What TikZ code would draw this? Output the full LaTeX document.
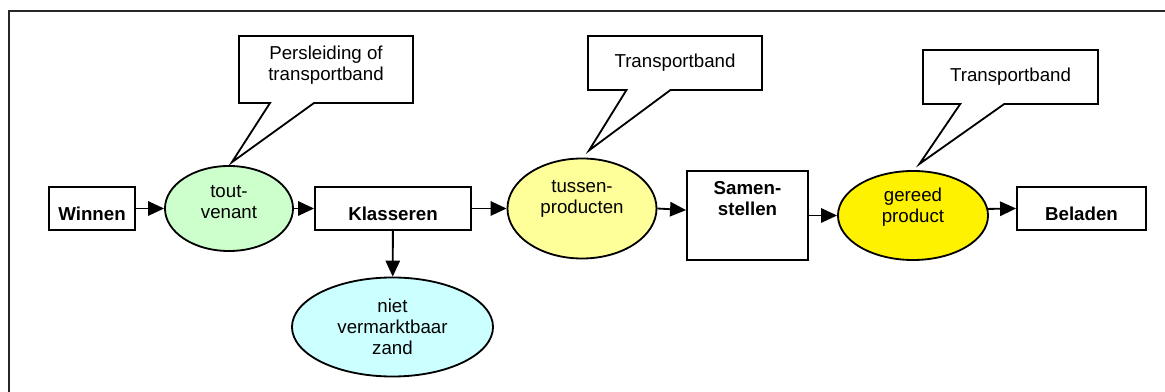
\documentclass[tikz,border=0pt]{standalone}
\usepackage{fontspec}
\setmainfont{Liberation Sans}
\usetikzlibrary{arrows.meta,shapes.geometric,shapes.callouts}

\tikzset{
  every node/.style={font=\fontsize{13.3}{15}\selectfont,align=center},
  stap/.style={draw,line width=1.3pt,rectangle,font=\fontsize{13.3}{15}\selectfont\bfseries,
    minimum height=1.075cm,text height=18pt,text depth=1.4pt},
  prod/.style={draw,line width=1.3pt,ellipse,inner sep=0pt},
  ballon/.style={draw,line width=1.3pt,rectangle callout,callout pointer width=1.1cm},
  pijl/.style={line width=1.3pt,-{Triangle[length=0.4cm,width=0.36cm]}}
}

\begin{document}
\begin{tikzpicture}[x=0.025cm,y=-0.025cm]
  \useasboundingbox (0,0) rectangle (1165,392);
  \draw[line width=1.3pt,black!85] (9,392) -- (9,11) -- (1165,11);

  \node[stap,minimum width=2.15cm] (winnen) at (92,208.5) {Winnen};
  \node[prod,fill={rgb,255:red,204;green,255;blue,204},minimum width=3.2cm,minimum height=2.125cm,text depth=9pt]
    (tout) at (229,208.5) {tout-\\venant};
  \node[stap,minimum width=3.9cm] (klass) at (393,208.5) {Klasseren};
  \node[prod,fill={rgb,255:red,204;green,255;blue,255},minimum width=5.025cm,minimum height=2.475cm]
    (zand) at (392.5,327) {niet\\vermarktbaar\\zand};
  \node[prod,fill={rgb,255:red,255;green,255;blue,153},minimum width=3.725cm,minimum height=2.5cm,text depth=17pt]
    (tussen) at (582,208.5) {tussen-\\producten};
  \node[stap,minimum width=3.025cm,minimum height=2.225cm,text height=,text depth=24pt]
    (samen) at (747.5,215.5) {Samen-\\stellen};
  \node[prod,fill=yellow,minimum width=3.75cm,minimum height=2.225cm,text depth=14pt]
    (gereed) at (913,215.5) {gereed\\product};
  \node[stap,minimum width=3.225cm] (beladen) at (1081.5,208.5) {Beladen};

  \node[ballon,fill=white,minimum width=4.35cm,minimum height=1.675cm,text depth=8.8pt,
    callout absolute pointer={(tout.north)},callout pointer shorten=0.1cm]
    (pers) at (326,69.5) {Persleiding of\\transportband};
  \node[ballon,fill=white,minimum width=4.35cm,minimum height=1.35cm,
    callout absolute pointer={(tussen.north)},callout pointer shorten=0.25cm]
    (band1) at (675,63) {Transportband};
  \node[ballon,fill=white,minimum width=4.375cm,minimum height=1.35cm,
    callout absolute pointer={(gereed.north)},callout pointer shorten=0.225cm]
    (band2) at (1010.5,77) {Transportband};

  \draw[pijl] (winnen) -- (tout);
  \draw[pijl] (tout) -- (klass);
  \draw[pijl] (klass) -- (tussen);
  \draw[pijl] (klass) -- (zand);
  \draw[pijl] (tussen.east) -- (samen.175);
  \draw[pijl] (samen) -- (gereed);
  \draw[pijl] (gereed.5) -- (beladen.west);
\end{tikzpicture}
\end{document}
